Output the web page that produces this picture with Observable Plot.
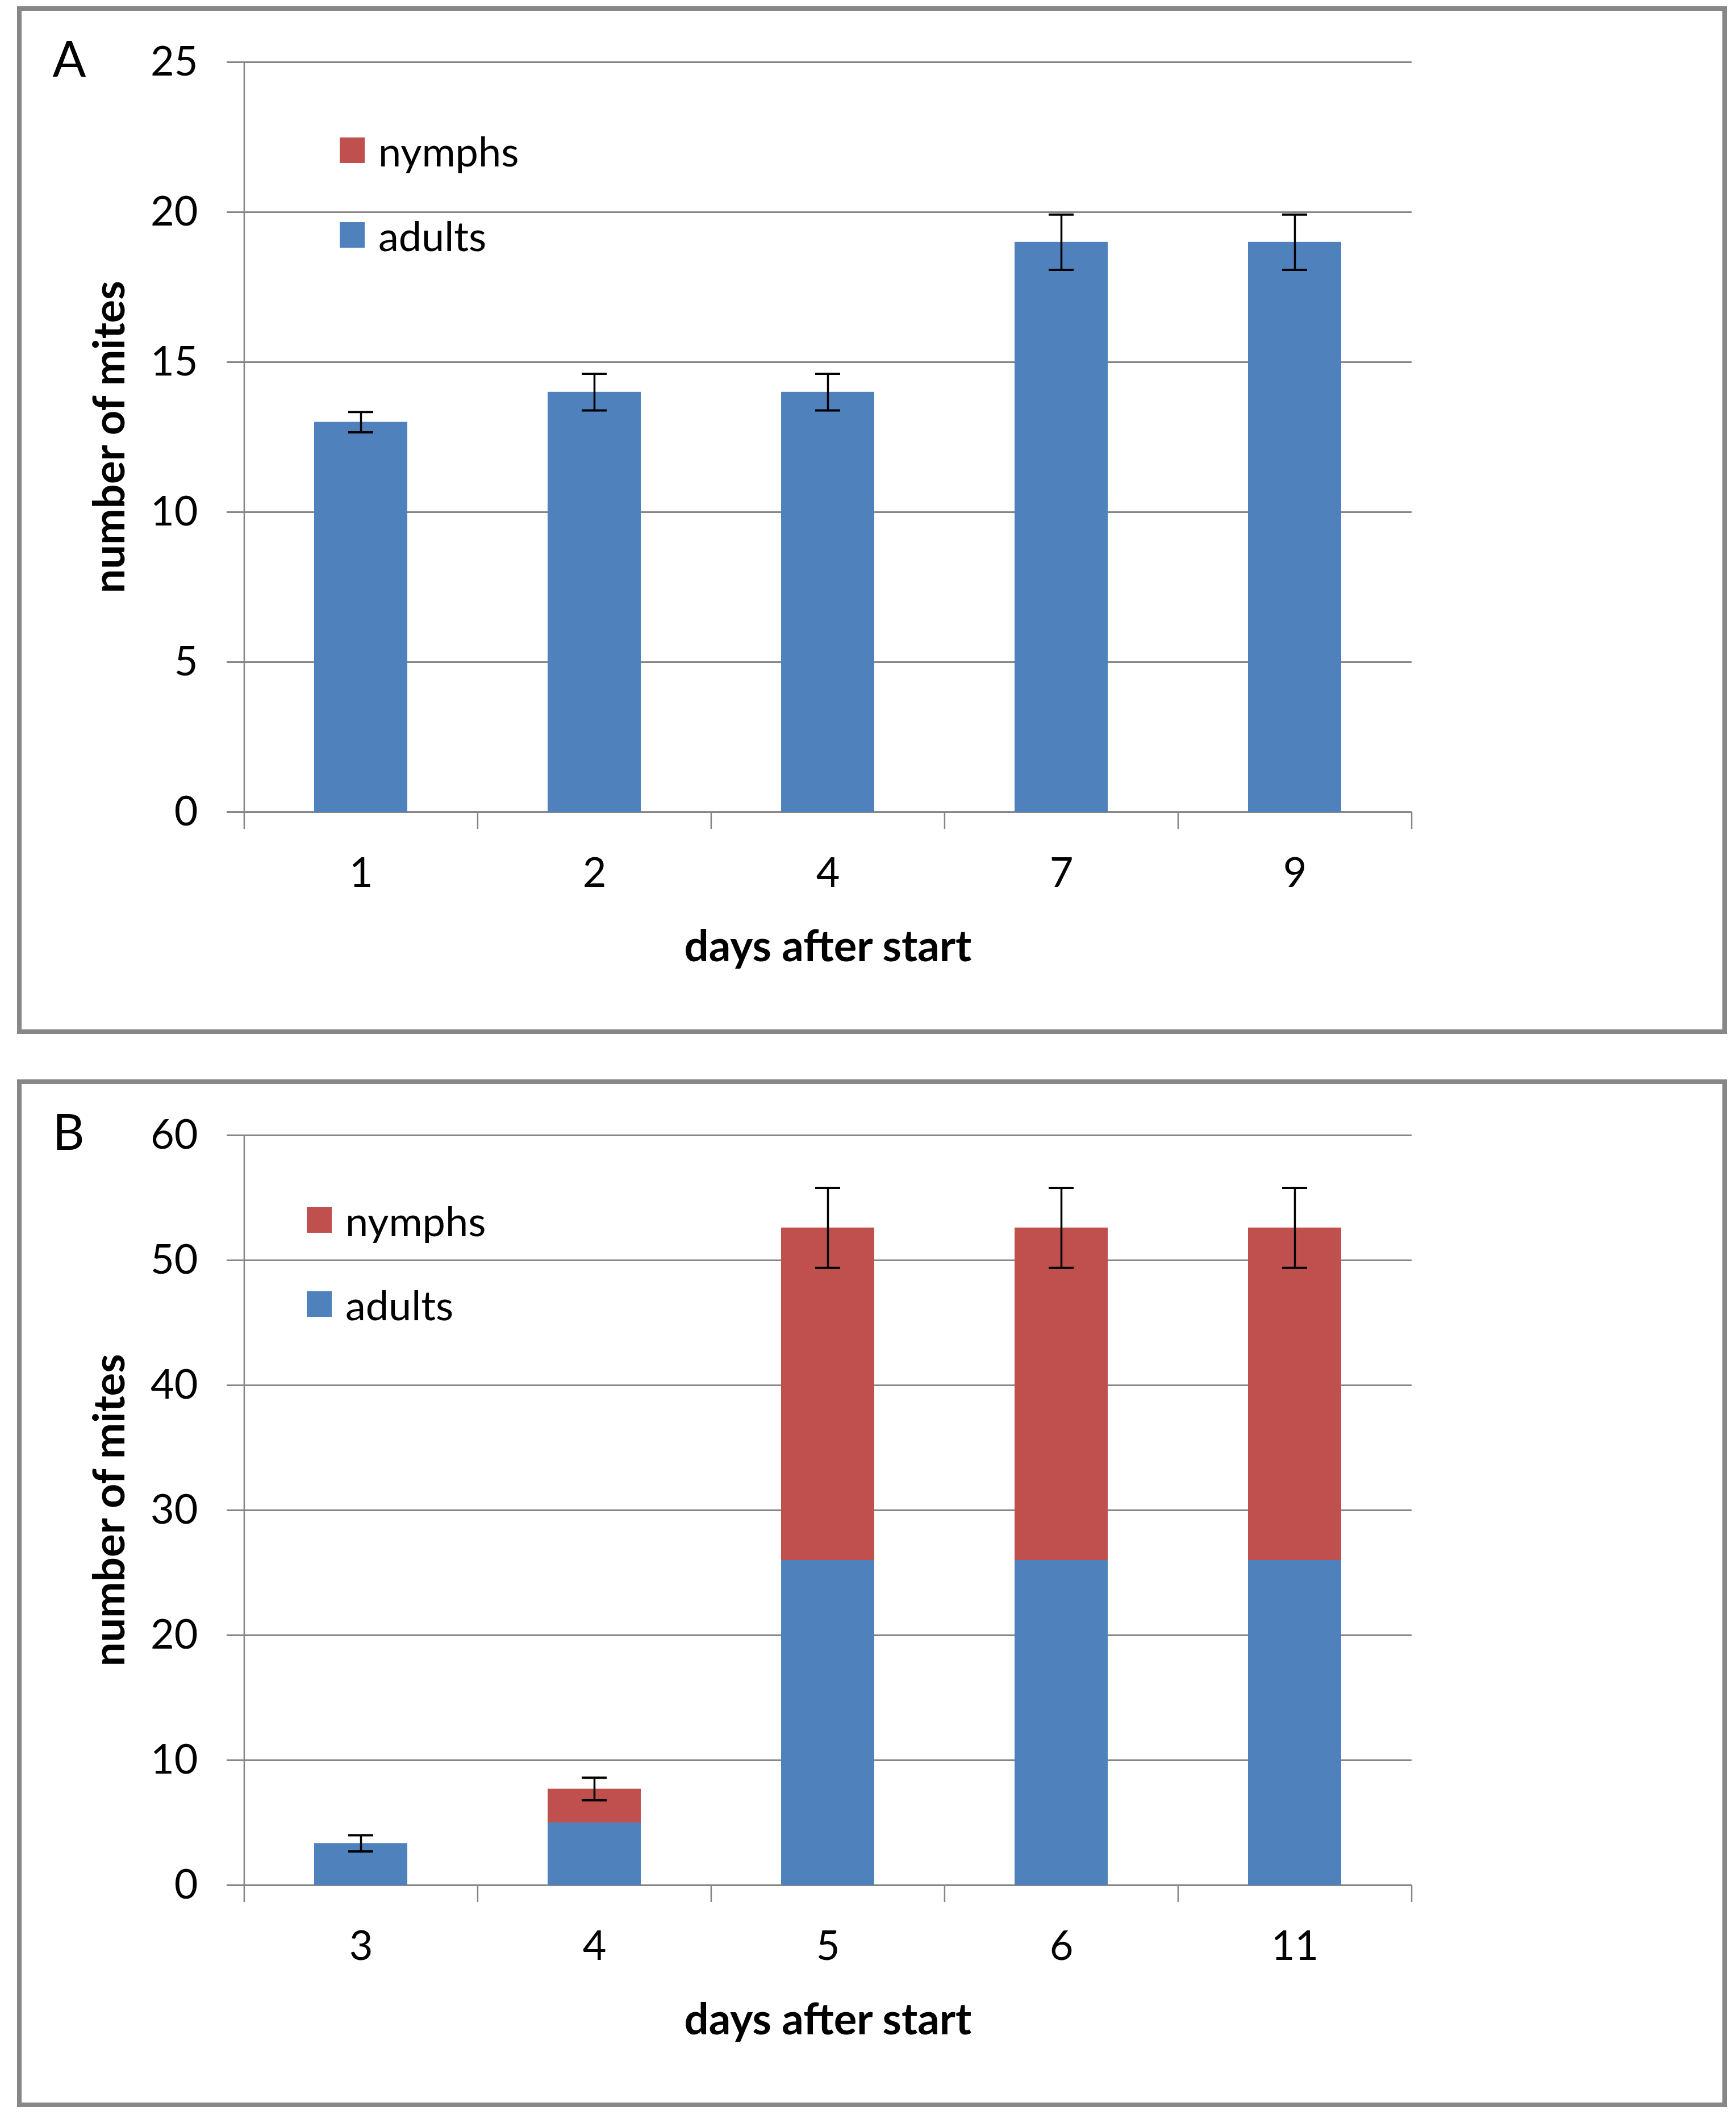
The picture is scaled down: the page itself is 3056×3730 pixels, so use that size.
<!DOCTYPE html>
<html>
<head>
<meta charset="utf-8">
<script src="https://cdn.jsdelivr.net/npm/d3@7"></script>
<script src="https://cdn.jsdelivr.net/npm/@observablehq/plot@0.6"></script>
<style>
  html, body { margin: 0; padding: 0; background: #fff; }
  body { width: 3056px; height: 3730px; position: relative; font-family: Lato, "Open Sans", sans-serif; }
  .panel { position: absolute; left: 30px; width: 2994px; height: 1793px; border: 8px solid #878787; background: #fff; }
  .panel svg { position: absolute; left: 0; top: 0; }
  .legend { position: absolute; font-family: Lato, sans-serif; font-size: 72px; color: #000; }
  .legend .row { position: absolute; display: flex; align-items: center; white-space: nowrap; }
  .legend .sw { width: 44px; height: 45px; margin-right: 24px; }
</style>
</head>
<body>
<div id="panelA" class="panel" style="top:11px"></div>
<div id="panelB" class="panel" style="top:1900px"></div>
<script>
// ---- data ----
const seriesNames = ["adults", "nymphs"];
const seriesColors = ["#4F81BD", "#C0504D"];

const daysA = ["1", "2", "4", "7", "9"];
const adultsA = [13, 14, 14, 19, 19];
const nymphsA = [0, 0, 0, 0, 0];
const errA = [0.34, 0.61, 0.61, 0.92, 0.92];
const yTicksA = [0, 5, 10, 15, 20, 25];

const daysB = ["3", "4", "5", "6", "11"];
const adultsB = [3.35, 5.0, 26, 26, 26];
const nymphsB = [0, 2.7, 26.6, 26.6, 26.6];
const errB = [0.65, 0.9, 3.2, 3.2, 3.2];
const yTicksB = [0, 10, 20, 30, 40, 50, 60];

// ---- layout (styling only) ----
const W = 2994, H = 1793;
const mL = 391, mR = 547, mT = 90, mB = 383;
const step = (W - mL - mR) / 5;
const gray = "#868686";
const font = "Lato, 'Open Sans', sans-serif";

function makePanel(label, days, adults, nymphs, err, yTicks) {
  const yMax = yTicks[yTicks.length - 1];
  const rows = [];
  days.forEach((d, i) => {
    rows.push({day: d, series: seriesNames[0], value: adults[i]});
    rows.push({day: d, series: seriesNames[1], value: nymphs[i]});
  });
  const totals = days.map((d, i) => ({day: d, total: adults[i] + nymphs[i], lo: adults[i] + nymphs[i] - err[i], hi: adults[i] + nymphs[i] + err[i]}));

  return Plot.plot({
    width: W, height: H,
    marginLeft: mL, marginRight: mR, marginTop: mT, marginBottom: mB,
    style: {fontFamily: font, fontSize: "72px", color: "#000", background: "transparent", overflow: "visible"},
    x: {type: "band", domain: days, paddingInner: 0.6, paddingOuter: 0.3, axis: null},
    y: {domain: [0, yMax], axis: null},
    color: {domain: seriesNames, range: seriesColors},
    marks: [
      // gridlines (extend left as tick marks)
      Plot.ruleY(yTicks, {stroke: gray, strokeWidth: 3, insetLeft: -30}),
      // y axis line
      Plot.ruleX([days[0]], {y1: 0, y2: yMax, dx: -step / 2, stroke: gray, strokeWidth: 2.5}),
      // x boundary ticks
      Plot.ruleX(days, {y1: 0, y2: 0, insetBottom: -30, dx: -step / 2, stroke: gray, strokeWidth: 2.5}),
      Plot.ruleX([days[days.length - 1]], {y1: 0, y2: 0, insetBottom: -30, dx: step / 2, stroke: gray, strokeWidth: 2.5}),
      // bars
      Plot.barY(rows, {x: "day", y: "value", fill: "series"}),
      // error bars
      Plot.ruleX(totals, {x: "day", y1: "lo", y2: "hi", stroke: "#000", strokeWidth: 3.5}),
      Plot.tickY(totals, {x: "day", y: "lo", stroke: "#000", strokeWidth: 4, insetLeft: 60, insetRight: 60}),
      Plot.tickY(totals, {x: "day", y: "hi", stroke: "#000", strokeWidth: 4, insetLeft: 60, insetRight: 60}),
      // axes
      Plot.axisY(yTicks, {tickSize: 0, tickPadding: 81, fontSize: 72, tickFormat: d3.format("d"), label: null, fill: "#000"}),
      Plot.axisX({tickSize: 0, tickPadding: 80, fontSize: 72, label: null, fill: "#000"}),
      // axis titles
      Plot.text(["number of mites"], {frameAnchor: "left", rotate: -90, dx: -235, fontSize: 76, fontWeight: "bold", textAnchor: "middle", lineAnchor: "middle", fill: "#000"}),
      Plot.text(["days after start"], {frameAnchor: "bottom", dy: 238, fontSize: 76, fontWeight: "bold", textAnchor: "middle", lineAnchor: "middle", fill: "#000"}),
      // panel letter
      Plot.text([label], {frameAnchor: "top-left", dx: 54 - mL, dy: 115 - mT, fontSize: 87, textAnchor: "start", lineAnchor: "bottom", fill: "#000"})
    ]
  });
}

function addLegend(panel, sx, sy0, sy1) {
  const lg = document.createElement("div");
  lg.className = "legend";
  lg.style.left = sx + "px";
  lg.style.top = "0px";
  [[seriesNames[1], seriesColors[1], sy0], [seriesNames[0], seriesColors[0], sy1]].forEach(([name, col, y]) => {
    const r = document.createElement("div");
    r.className = "row";
    r.style.top = (y - 40) + "px";
    r.style.height = "125px";
    const sw = document.createElement("div");
    sw.className = "sw";
    sw.style.background = col;
    const t = document.createElement("span");
    t.textContent = name;
    r.appendChild(sw); r.appendChild(t);
    lg.appendChild(r);
  });
  panel.appendChild(lg);
}

const pA = document.getElementById("panelA");
pA.appendChild(makePanel("A", daysA, adultsA, nymphsA, errA, yTicksA));
addLegend(pA, 560, 223, 372);

const pB = document.getElementById("panelB");
pB.appendChild(makePanel("B", daysB, adultsB, nymphsB, errB, yTicksB));
addLegend(pB, 502, 217, 365);
</script>
</body>
</html>
